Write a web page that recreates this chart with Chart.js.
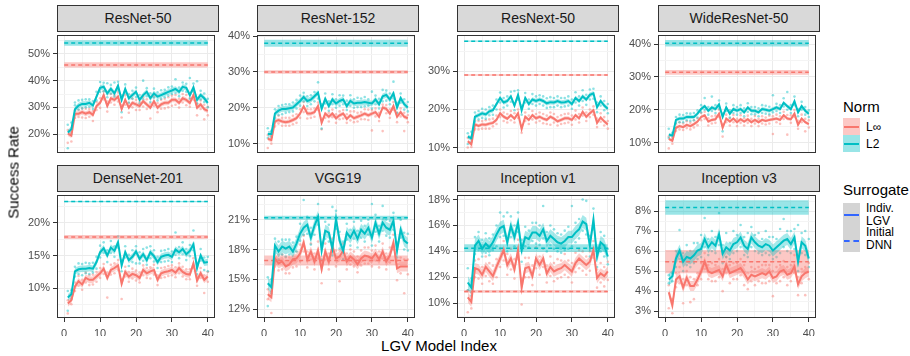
<!DOCTYPE html>
<html>
<head>
<meta charset="utf-8">
<script src="https://cdn.jsdelivr.net/npm/chart.js@4.4.1/dist/chart.umd.min.js"></script>
<style>
  body { margin: 0; background: #fff; overflow: hidden; font-family: "Liberation Sans", Arial, sans-serif; }
  #fig { position: relative; width: 910px; height: 356px; overflow: hidden; }
  .strip { position: absolute; box-sizing: border-box; background: #D9D9D9; border: 1px solid #333333;
           color: #1A1A1A; font-size: 14px; text-align: center; line-height: 25px; }
  .panel { position: absolute; }
  .txt { position: absolute; white-space: nowrap; color: #000; }
  .key { position: absolute; box-sizing: border-box; }
</style>
</head>
<body>
<div id="fig"></div>
<script>
// ---- data (success rate, %) ----
const panelNames = ['ResNet-50', 'ResNet-152', 'ResNext-50', 'WideResNet-50',
                    'DenseNet-201', 'VGG19', 'Inception v1', 'Inception v3'];
const modelIndex = Array.from({length: 40}, (_, i) => i + 1);
const xTickLabels = [0, 10, 20, 30, 40];
const yTicks = [[20, 30, 40, 50], [10, 20, 30, 40], [10, 20, 30], [10, 20, 30, 40],
                [10, 15, 20], [12, 15, 18, 21], [10, 12, 14, 16, 18], [3, 4, 5, 6, 7, 8]];
const yLimits = [[12.9, 57.1], [7.4, 40.3], [8.65, 39.4], [6.8, 42.8],
                 [5.5, 24.2], [11.1, 23.5], [8.86, 18.35], [2.66, 8.8]];

// initial DNN surrogate (dashed) and its band
const dnnLinf = [45.9, 30.0, 29.0, 31.4, 17.8, 16.9, 10.9, 5.47];
const dnnL2 = [54.1, 38.0, 37.8, 40.3, 23.2, 21.2, 14.25, 8.18];
const dnnLinfBand = [1.0, 0.5, 0.2, 0.7, 0.3, 0.5, 0.1, 0.58];
const dnnL2Band = [1.0, 1.0, 0.15, 1.0, 0.1, 0.2, 0.3, 0.36];
// half width of the ribbon around the LGV mean
const lgvLinfBand = [0.9, 0.6, 0.5, 0.5, 0.5, 0.5, 0.4, 0.25];
const lgvL2Band = [1.0, 0.8, 0.6, 0.6, 0.5, 0.6, 0.5, 0.3];

// LGV means and two individual runs per series
const resnet50Linf = [20.2,19.4,27.6,27.6,28.2,27.6,28.2,27.2,30.5,31.7,34.6,30.5,33.4,32.8,34.0,29.3,32.8,29.9,31.7,31.1,30.5,32.3,31.1,29.9,32.3,29.9,31.1,31.7,31.7,32.8,32.8,31.7,33.4,32.8,31.7,34.6,29.9,31.1,29.3,28.7];
const resnet50L2 = [20.6,21.8,29.3,30.7,31.3,31.3,31.7,30.7,34.0,37.3,37.7,35.2,36.9,35.2,38.1,32.8,36.9,33.4,34.6,35.8,32.8,34.6,35.8,33.4,35.2,34.0,34.6,35.2,35.8,36.3,36.9,35.8,37.7,37.3,34.6,37.5,32.8,34.6,33.4,31.7];
const resnet50LinfRunA = [16.7,17.2,26.0,29.0,26.2,29.5,26.5,24.9,32.0,29.8,33.0,28.4,35.0,31.0,32.2,26.2,34.5,28.0,33.3,29.0,32.0,30.3,33.0,25.8,34.0,28.2,32.8,29.6,33.8,30.6,34.6,29.9,35.0,30.8,33.5,32.8,27.0,29.4,25.5,27.0];
const resnet50LinfRunB = [21.5,20.8,28.8,26.4,29.6,26.0,29.4,28.6,29.0,33.4,36.0,32.2,31.8,34.4,35.6,30.8,31.0,31.6,30.0,32.8,29.0,33.8,29.4,31.4,30.6,31.6,29.5,33.2,30.0,34.4,31.0,33.2,31.8,34.6,30.2,36.0,31.4,32.6,31.0,30.2];
const resnet50L2RunA = [14.7,24.3,31.8,32.6,29.6,33.0,30.2,32.4,35.8,39.5,36.0,39.0,35.2,39.3,36.4,28.2,38.6,35.0,36.2,33.9,34.6,40.0,34.2,35.3,37.0,32.6,36.4,33.8,37.5,35.0,40.5,34.2,39.3,35.8,41.0,35.9,39.8,33.0,35.2,30.0];
const resnet50L2RunB = [23.5,20.0,30.8,29.2,32.8,30.0,33.0,29.4,32.6,35.8,39.2,33.8,38.4,34.0,39.6,34.4,35.4,31.8,33.2,37.4,31.4,33.0,37.2,32.0,33.6,35.6,33.2,36.6,34.4,37.8,35.4,37.4,36.2,38.8,33.2,38.9,31.4,36.2,32.0,33.2];

const resnet152Linf = [11.4,11.0,16.2,16.6,16.2,16.0,16.2,16.6,17.1,18.4,20.4,18.4,18.4,18.8,20.5,15.8,18.4,17.5,18.4,17.1,17.9,18.4,16.9,17.9,17.1,17.5,17.9,18.4,17.9,18.4,18.8,17.5,20.1,19.7,18.4,20.5,17.5,18.8,17.5,17.1];
const resnet152L2 = [12.7,12.7,18.4,19.2,19.7,19.7,19.9,20.1,21.0,21.9,23.0,21.9,22.3,23.2,24.2,19.7,22.5,20.5,22.3,21.2,21.9,22.3,20.5,21.9,21.2,21.4,21.4,21.6,21.4,21.2,22.3,21.0,23.2,23.6,22.3,24.0,20.1,22.7,21.0,20.1];
const resnet152LinfRunA = [8.8,12.2,14.8,17.8,15.0,17.2,15.0,17.8,15.8,19.6,18.8,17.0,19.6,17.5,21.5,14.0,19.8,16.2,19.5,15.8,19.0,17.0,18.2,16.5,19.0,16.2,18.8,16.8,19.5,13.7,19.8,16.3,13.5,18.5,19.6,21.6,16.0,19.8,13.5,16.0];
const resnet152LinfRunB = [12.4,10.0,17.4,15.6,17.2,15.0,17.2,15.4,18.2,17.2,21.6,19.6,17.2,19.8,19.4,17.0,17.2,18.6,17.4,18.2,16.8,19.4,15.8,19.0,16.0,18.6,16.8,19.6,16.6,19.4,17.6,18.6,20.9,20.8,17.2,19.4,18.6,17.6,18.6,18.0];
const resnet152L2RunA = [14.3,11.8,17.0,20.5,18.2,21.0,18.8,21.5,19.8,23.4,24.2,20.5,23.5,21.8,27.1,14.2,24.0,19.2,23.8,20.0,23.5,21.0,22.0,23.5,20.0,22.8,20.2,23.0,20.6,24.5,21.0,22.5,25.0,22.0,24.0,27.3,18.6,24.0,19.5,21.6];
const resnet152L2RunB = [11.6,13.6,19.6,18.0,20.8,18.6,21.0,19.0,22.2,20.6,21.8,23.2,21.0,24.4,22.6,21.0,21.2,21.8,21.0,22.4,20.6,23.4,19.4,20.6,22.4,20.2,22.6,20.4,22.4,19.8,23.4,19.8,21.8,24.8,21.0,22.6,21.4,21.4,22.4,19.0];

const resnext50Linf = [11.7,10.9,16.1,15.7,16.1,16.0,16.3,16.5,17.3,19.0,18.1,17.6,18.5,17.6,19.0,14.9,18.1,17.3,18.5,17.7,18.1,17.6,17.3,18.1,17.6,16.9,17.3,17.7,17.7,17.3,18.5,17.7,19.4,18.1,19.0,19.8,16.5,17.9,16.9,16.1];
const resnext50L2 = [12.9,12.5,18.1,18.5,19.0,18.7,19.5,19.8,21.4,23.0,21.8,22.2,23.4,21.0,23.8,19.8,23.0,21.4,22.6,22.2,22.6,22.2,21.6,21.9,21.8,22.2,21.8,21.9,22.2,21.4,23.0,22.2,23.4,22.6,23.8,24.2,20.6,22.2,21.0,20.2];
const resnext50LinfRunA = [10.1,12.2,14.8,17.0,15.0,17.2,15.0,17.6,16.2,20.0,17.0,18.8,17.2,19.0,17.8,13.9,19.2,16.2,19.6,16.6,19.2,16.4,18.4,16.0,18.8,15.8,18.5,16.4,18.9,16.0,19.7,16.6,20.5,17.0,20.0,18.6,15.4,19.0,15.8,15.0];
const resnext50LinfRunB = [12.6,10.2,17.2,14.8,17.0,15.0,17.4,15.6,18.4,18.0,19.2,16.6,19.6,16.6,20.0,15.8,17.0,18.4,17.4,18.8,17.0,18.8,16.2,19.2,16.6,18.0,16.2,18.8,16.6,18.4,17.4,18.8,18.4,19.2,18.0,20.8,17.6,16.8,18.0,17.0];
const resnext50L2RunA = [11.0,14.2,16.8,19.6,17.8,20.0,18.5,21.0,20.0,24.4,20.5,23.4,22.0,24.8,22.5,18.6,24.3,20.2,24.0,21.0,23.7,21.0,22.9,20.6,23.0,21.0,23.0,20.8,23.4,20.2,24.5,21.0,25.0,21.2,25.2,22.8,19.3,23.4,19.8,19.0];
const resnext50L2RunB = [13.8,11.6,19.2,17.4,20.2,17.6,20.6,18.6,22.6,21.8,23.0,21.0,24.6,19.8,25.0,21.0,21.8,22.6,21.4,23.4,21.4,23.4,20.4,23.2,20.6,23.4,20.6,23.0,21.0,22.6,21.8,23.4,22.2,23.8,22.6,25.4,21.8,21.0,22.2,21.4];

const wideresnet50Linf = [11.1,10.5,14.5,15.0,14.7,15.4,15.0,15.6,16.4,17.8,18.3,16.4,16.9,17.1,18.8,14.5,17.3,16.4,17.3,16.2,17.1,16.4,17.1,16.2,16.9,16.2,16.9,16.6,16.9,17.1,17.3,16.9,18.3,17.3,17.1,18.8,15.4,17.3,16.2,15.6];
const wideresnet50L2 = [12.4,12.1,16.9,17.3,17.3,17.8,17.8,17.8,18.8,20.2,21.1,19.7,20.7,20.2,21.6,17.8,20.7,18.8,20.2,19.7,20.2,19.2,20.7,19.7,19.7,19.2,20.2,20.0,19.7,20.2,20.7,20.2,22.1,21.1,20.2,22.6,19.2,21.1,19.7,18.8];
const wideresnet50LinfRunA = [8.2,11.6,13.5,16.2,13.8,16.5,14.0,16.8,15.3,19.0,17.2,15.2,18.0,16.0,20.0,11.8,18.5,15.2,18.4,15.0,18.3,15.2,18.2,15.0,18.1,15.0,18.0,15.5,18.2,12.6,18.5,15.7,19.4,12.4,18.3,19.9,14.2,18.5,13.4,14.6];
const wideresnet50LinfRunB = [11.8,9.6,15.6,14.0,15.8,14.4,16.0,14.6,17.4,16.8,19.4,17.4,15.8,18.2,17.8,15.6,16.2,17.4,16.2,17.2,16.0,17.4,16.0,17.2,15.8,17.2,15.8,17.6,15.8,18.0,16.2,18.0,17.2,18.4,16.0,17.8,16.6,16.2,17.2,16.8];
const wideresnet50L2RunA = [14.2,11.0,16.0,18.5,16.2,18.9,16.6,19.0,17.6,21.4,23.6,18.5,24.0,19.0,22.8,13.4,21.9,17.6,21.4,18.5,21.4,18.0,22.0,18.6,20.8,18.0,21.4,18.8,20.9,24.4,19.6,21.4,23.5,25.4,19.0,24.0,18.0,22.4,18.5,19.8];
const wideresnet50L2RunB = [11.4,13.0,17.8,16.2,18.4,16.8,18.8,16.8,19.8,19.2,20.0,20.8,19.6,21.4,20.4,18.8,19.6,19.8,19.0,20.8,19.0,20.4,19.4,20.8,18.6,20.4,19.0,21.2,18.6,19.2,21.8,19.0,21.0,20.0,21.4,21.4,20.2,20.0,20.8,17.8];

const densenet201Linf = [7.7,8.2,10.3,11.1,10.6,11.6,11.3,11.3,11.8,12.3,13.0,11.6,12.8,13.1,13.5,10.7,12.5,11.8,12.2,12.0,11.6,12.8,12.3,12.6,12.8,11.3,12.3,12.5,12.6,12.8,12.4,13.1,12.5,12.2,12.1,13.8,11.2,12.3,11.3,11.8];
const densenet201L2 = [8.6,9.1,12.6,12.9,13.0,13.0,13.1,13.0,14.0,15.5,16.1,15.0,16.2,15.7,17.0,13.5,15.5,14.3,14.8,15.6,14.5,15.2,14.3,15.5,14.9,14.0,14.8,15.0,15.1,14.8,15.9,15.5,16.0,15.2,15.7,16.7,13.1,15.0,13.9,14.0];
const densenet201LinfRunA = [6.2,8.8,9.6,11.9,9.8,12.4,10.5,12.1,11.0,13.1,12.2,8.6,13.6,12.3,14.3,8.4,13.3,11.0,13.0,11.2,12.4,12.0,13.1,11.5,13.6,10.5,13.1,11.7,13.4,12.0,13.2,12.3,13.3,11.4,12.9,14.6,10.4,13.1,9.3,11.0];
const densenet201LinfRunB = [8.2,7.6,10.9,10.4,11.3,10.9,12.0,10.6,12.5,11.6,13.7,12.4,12.1,13.8,12.8,11.4,11.8,12.5,11.5,12.7,10.9,13.5,11.6,13.2,12.1,12.0,11.6,13.2,11.9,13.5,11.7,13.8,11.8,12.9,11.4,13.1,11.9,11.6,12.0,12.5];
const densenet201L2RunA = [6.6,9.7,11.8,13.8,12.0,13.9,12.2,13.9,13.0,16.5,17.0,14.0,17.2,14.8,17.9,12.6,16.4,13.4,15.8,13.8,15.5,14.2,16.2,16.4,15.8,13.1,15.7,14.1,16.0,14.0,18.5,14.6,17.0,14.3,16.6,18.8,12.2,16.0,12.8,12.6];
const densenet201L2RunB = [9.6,8.4,13.3,12.2,13.7,12.3,13.8,12.4,14.8,14.7,15.4,15.8,15.4,16.4,16.2,14.3,14.7,15.1,14.0,16.4,13.8,16.0,13.6,14.6,14.1,14.8,14.0,15.8,14.2,15.6,15.1,16.3,15.2,16.0,14.9,15.8,13.9,14.2,14.7,14.8];

const vgg19Linf = [13.5,13.2,17.1,16.6,16.8,16.3,16.5,17.0,17.1,17.6,18.7,17.0,17.8,16.8,17.9,16.0,17.8,16.8,18.3,17.1,17.3,17.9,16.8,17.3,17.0,16.5,17.1,17.4,17.3,17.1,17.6,17.0,17.8,16.8,17.4,18.7,16.1,16.3,16.3,16.3];
const vgg19L2 = [14.6,14.2,18.4,17.8,18.3,18.1,18.3,17.8,18.6,19.6,20.2,20.5,19.2,20.4,21.3,17.9,19.9,19.7,18.1,21.1,18.9,17.9,19.7,19.2,19.9,19.1,20.0,19.6,20.2,19.2,20.7,19.6,20.7,20.2,20.0,20.9,17.9,20.0,18.9,18.6];
const vgg19LinfRunA = [13.0,11.6,16.3,17.5,16.0,17.2,15.6,17.8,16.3,18.5,17.8,16.2,18.6,16.0,18.8,14.6,18.6,16.0,19.1,16.3,14.8,17.1,17.6,16.5,17.8,15.7,17.9,16.6,18.2,16.3,18.4,16.2,18.6,16.0,18.2,19.5,14.9,17.2,13.6,15.5];
const vgg19LinfRunB = [14.0,13.8,17.8,15.9,17.5,15.6,17.2,16.2,17.8,16.8,19.4,17.8,17.0,17.6,17.1,16.8,17.0,17.6,17.5,17.9,17.9,18.6,16.0,18.0,16.3,17.3,16.4,18.2,16.6,17.9,16.9,17.8,17.1,17.6,16.7,18.0,16.9,15.6,17.0,17.0];
const vgg19L2RunA = [12.3,15.0,17.6,18.8,17.5,19.0,17.5,18.7,17.8,20.6,23.0,19.6,20.2,19.5,22.6,17.0,20.8,18.8,22.3,20.1,19.8,17.0,20.6,18.4,20.8,18.2,20.9,18.8,21.0,22.6,19.8,18.8,22.4,19.4,20.9,20.0,17.2,21.0,18.0,19.6];
const vgg19L2RunB = [15.2,13.6,19.1,17.0,19.0,17.3,19.0,17.0,19.3,18.9,19.5,21.3,18.5,21.2,20.5,18.7,19.1,20.5,17.4,21.9,18.1,18.8,19.0,20.0,19.1,19.9,19.2,20.4,19.5,18.4,21.5,20.4,19.9,21.0,19.2,21.7,18.7,19.2,19.7,17.9];

const inceptionv1Linf = [10.45,10.1,12.7,12.6,12.2,12.8,12.45,12.1,12.8,13.45,14.1,12.95,13.45,12.6,14.1,11.2,12.7,12.8,12.1,13.45,12.95,13.45,12.3,12.8,12.45,12.6,12.7,12.95,12.7,12.45,13.1,13.45,13.2,12.95,13.2,14.1,11.95,12.3,12.1,12.45];
const inceptionv1L2 = [11.6,11.2,14.45,14.8,14.2,14.6,14.3,14.7,15.3,15.8,15.95,14.7,15.95,15.1,16.2,14.1,15.1,14.95,15.45,15.45,15.2,15.7,14.8,15.2,14.95,14.7,14.6,14.8,15.1,15.1,15.45,15.7,16.3,16.1,14.45,16.45,13.6,14.7,14.45,13.6];
const inceptionv1LinfRunA = [9.3,10.8,12.0,13.4,11.5,13.6,11.7,12.9,12.0,14.2,13.3,13.8,12.6,13.4,14.9,9.9,13.5,12.0,12.9,14.3,12.2,14.2,11.6,13.6,11.7,13.4,12.0,13.8,12.0,11.6,13.9,12.7,14.0,12.2,14.0,14.8,11.2,13.1,11.3,13.2];
const inceptionv1LinfRunB = [11.0,9.6,13.3,11.9,12.8,12.1,13.1,11.5,13.4,12.8,14.8,12.2,14.2,11.9,13.4,11.9,12.0,13.5,11.4,12.7,13.6,12.8,12.9,12.1,13.1,11.9,13.3,12.2,13.3,13.1,12.4,14.1,12.5,13.6,12.5,13.5,12.6,11.6,12.8,11.8];
const inceptionv1L2RunA = [12.7,10.6,13.8,15.5,13.6,15.4,13.7,15.3,14.4,17.0,15.2,17.0,15.1,16.0,17.0,13.2,15.9,14.3,16.2,14.6,16.0,17.5,14.0,16.0,14.2,15.4,13.9,15.6,14.2,17.5,14.7,16.5,18.0,17.9,13.6,17.3,12.8,15.5,13.6,13.0];
const inceptionv1L2RunB = [11.0,11.9,15.1,14.1,14.9,13.9,15.0,14.1,16.0,15.1,16.7,14.0,16.7,14.4,15.5,14.9,14.4,15.6,14.8,16.2,14.5,15.0,15.5,14.5,15.7,14.0,15.3,14.1,15.9,14.4,16.2,15.0,15.6,15.3,15.2,15.7,14.3,14.0,15.2,14.2];

const inceptionv3Linf = [3.94,3.29,4.58,4.74,4.18,4.66,4.26,4.26,4.58,4.98,5.47,4.98,4.9,4.98,5.06,4.74,5.31,4.9,4.98,5.06,5.15,4.9,4.58,4.82,4.74,4.82,4.9,4.82,4.98,4.66,4.74,4.98,5.06,4.82,4.9,5.23,4.34,4.74,4.9,4.98];
const inceptionv3L2 = [4.58,4.74,5.63,6.03,5.47,5.71,5.63,5.79,6.03,6.11,6.6,6.19,6.44,6.27,6.84,5.87,6.19,6.03,6.35,6.44,6.68,6.27,6.11,6.68,6.44,6.27,6.19,6.35,6.27,6.03,6.19,6.35,6.52,6.6,6.35,6.68,5.47,6.44,6.27,5.63];
const inceptionv3LinfRunA = [3.15,2.9,4.2,5.2,3.4,5.0,3.45,3.6,4.9,5.4,5.9,4.6,5.4,4.5,5.6,4.0,5.7,4.4,5.4,4.6,5.6,4.3,4.1,5.2,4.3,5.2,4.4,5.3,4.5,3.75,5.2,4.5,5.5,4.3,5.3,5.8,3.8,5.1,3.8,5.4];
const inceptionv3LinfRunB = [4.3,3.6,4.9,4.4,4.6,4.3,4.7,4.6,4.3,4.6,5.1,5.3,4.5,5.3,4.7,5.1,4.9,5.3,4.6,5.4,4.8,5.3,4.9,4.5,5.1,4.5,5.3,4.4,5.3,5.0,4.4,5.3,4.7,5.2,4.5,4.9,4.7,4.4,5.2,4.6];
const inceptionv3L2RunA = [4.4,4.9,5.2,7.05,5.0,6.3,5.2,6.4,5.6,6.8,7.65,5.8,7.0,5.9,7.9,5.4,6.9,5.6,7.0,6.0,7.3,5.8,6.9,7.2,6.0,6.9,5.8,7.0,5.8,6.7,5.7,7.1,7.6,6.0,7.0,6.1,7.3,5.9,7.0,6.6];
const inceptionv3L2RunB = [4.8,4.5,6.0,5.6,5.9,5.3,6.0,5.4,6.4,5.7,6.2,6.6,6.0,6.7,6.3,6.3,5.7,6.4,5.9,6.8,6.2,6.7,5.7,6.2,6.8,5.9,6.6,5.9,6.7,5.6,6.6,5.9,6.2,7.0,5.9,7.1,5.0,6.9,5.8,5.2];

const lgvLinf = [resnet50Linf, resnet152Linf, resnext50Linf, wideresnet50Linf, densenet201Linf, vgg19Linf, inceptionv1Linf, inceptionv3Linf];
const lgvL2 = [resnet50L2, resnet152L2, resnext50L2, wideresnet50L2, densenet201L2, vgg19L2, inceptionv1L2, inceptionv3L2];
const runsLinf = [
  [resnet50LinfRunA, resnet50LinfRunB], [resnet152LinfRunA, resnet152LinfRunB],
  [resnext50LinfRunA, resnext50LinfRunB], [wideresnet50LinfRunA, wideresnet50LinfRunB],
  [densenet201LinfRunA, densenet201LinfRunB], [vgg19LinfRunA, vgg19LinfRunB],
  [inceptionv1LinfRunA, inceptionv1LinfRunB], [inceptionv3LinfRunA, inceptionv3LinfRunB]];
const runsL2 = [
  [resnet50L2RunA, resnet50L2RunB], [resnet152L2RunA, resnet152L2RunB],
  [resnext50L2RunA, resnext50L2RunB], [wideresnet50L2RunA, wideresnet50L2RunB],
  [densenet201L2RunA, densenet201L2RunB], [vgg19L2RunA, vgg19L2RunB],
  [inceptionv1L2RunA, inceptionv1L2RunB], [inceptionv3L2RunA, inceptionv3L2RunB]];

// ---- look ----
const FONT = '"Liberation Sans", Arial, sans-serif';
const RED = '#F8766D', TEAL = '#00BFC4', BLUE = '#3366FF';
const colLeft = [57, 257, 457, 658];
const AXIS_W = 36, PLOT_W = 162;

function fade(hex, a) {
  const n = parseInt(hex.slice(1), 16);
  return 'rgba(' + (n >> 16) + ',' + ((n >> 8) & 255) + ',' + (n & 255) + ',' + a + ')';
}
function isMajor(v, majors) { return majors.some(m => Math.abs(m - v) < 1e-6); }
function gridValues(majors, lo, hi) {
  const half = (majors[1] - majors[0]) / 2;
  let v = majors[0];
  while (v - half >= lo) v -= half;
  const out = [];
  for (; v <= hi + 1e-9; v += half) out.push(Math.round(v * 1000) / 1000);
  return out;
}
function xy(ys, d) { return ys.map((y, i) => ({x: modelIndex[i], y: y + (d || 0)})); }
function flat(y) { return [{x: xTickLabels[0], y: y}, {x: xTickLabels[xTickLabels.length - 1], y: y}]; }

const panelBorder = {
  id: 'panelBorder',
  afterDraw(chart) {
    const a = chart.chartArea, ctx = chart.ctx;
    ctx.save();
    ctx.strokeStyle = '#333333';
    ctx.lineWidth = 1;
    ctx.strokeRect(a.left + 0.5, a.top + 0.5, a.width - 1, a.height - 1);
    ctx.restore();
  }
};

const fig = document.getElementById('fig');

function addText(html, left, top, size, css) {
  const d = document.createElement('div');
  d.className = 'txt';
  d.innerHTML = html;
  d.style.left = left + 'px';
  d.style.top = top + 'px';
  d.style.fontSize = size + 'px';
  d.style.lineHeight = size + 'px';
  if (css) Object.assign(d.style, css);
  fig.appendChild(d);
  return d;
}

function ribbon(lo, hi, color, order) {
  return [
    {data: lo, borderWidth: 0, borderColor: 'rgba(0,0,0,0)', pointRadius: 0, fill: false, order: order},
    {data: hi, borderWidth: 0, borderColor: 'rgba(0,0,0,0)', pointRadius: 0, fill: '-1', backgroundColor: color, order: order}
  ];
}
function runDots(ys, color, order) {
  return {type: 'scatter', data: xy(ys), pointRadius: 1.3, pointBorderWidth: 0,
          pointBackgroundColor: fade(color, 0.45), order: order};
}

function makePanel(i) {
  const col = i % 4, bottom = i >= 4;
  const left = colLeft[col];
  const top = bottom ? 191 : 31;
  const plotH = bottom ? 127 : 126;
  const xAxisH = bottom ? 18 : 0;

  const strip = document.createElement('div');
  strip.className = 'strip';
  strip.textContent = panelNames[i];
  Object.assign(strip.style, {left: left + 'px', top: (top - 26) + 'px', width: PLOT_W + 'px', height: '27px'});
  fig.appendChild(strip);

  const box = document.createElement('div');
  box.className = 'panel';
  Object.assign(box.style, {left: (left - AXIS_W) + 'px', top: top + 'px'});
  const cv = document.createElement('canvas');
  cv.width = AXIS_W + PLOT_W;
  cv.height = plotH + xAxisH;
  cv.style.width = cv.width + 'px';
  cv.style.height = cv.height + 'px';
  box.appendChild(cv);
  fig.appendChild(box);

  const majorsY = yTicks[i];
  const lim = yLimits[i];
  const gridY = gridValues(majorsY, lim[0], lim[1]);
  const gridX = gridValues(xTickLabels, -2, 42);

  const datasets = [
    ...runsLinf[i].map(r => runDots(r, RED, 20)),
    ...runsL2[i].map(r => runDots(r, TEAL, 19)),
    ...ribbon(flat(dnnLinf[i] - dnnLinfBand[i]), flat(dnnLinf[i] + dnnLinfBand[i]), fade(RED, 0.4), 18),
    ...ribbon(flat(dnnL2[i] - dnnL2Band[i]), flat(dnnL2[i] + dnnL2Band[i]), fade(TEAL, 0.4), 17),
    ...ribbon(xy(lgvLinf[i], -lgvLinfBand[i]), xy(lgvLinf[i], lgvLinfBand[i]), fade(RED, 0.35), 16),
    ...ribbon(xy(lgvL2[i], -lgvL2Band[i]), xy(lgvL2[i], lgvL2Band[i]), fade(TEAL, 0.35), 15),
    {data: flat(dnnLinf[i]), borderColor: RED, borderWidth: 1.5, borderDash: [4, 3], pointRadius: 0, fill: false, order: 14},
    {data: flat(dnnL2[i]), borderColor: TEAL, borderWidth: 1.5, borderDash: [4, 3], pointRadius: 0, fill: false, order: 13},
    {data: xy(lgvLinf[i]), borderColor: RED, borderWidth: 2, pointRadius: 0, fill: false, order: 12},
    {data: xy(lgvL2[i]), borderColor: TEAL, borderWidth: 2, pointRadius: 0, fill: false, order: 11}
  ];

  new Chart(cv, {
    type: 'line',
    data: {datasets: datasets},
    options: {
      responsive: false,
      animation: false,
      devicePixelRatio: 1,
      layout: {padding: 0},
      events: [],
      plugins: {legend: {display: false}, tooltip: {enabled: false}},
      scales: {
        x: {
          type: 'linear', min: -2, max: 42,
          afterBuildTicks: s => { s.ticks = gridX.map(v => ({value: v})); },
          afterFit: s => { s.height = xAxisH; s.paddingLeft = 0; s.paddingRight = 0; },
          border: {display: false},
          grid: {
            color: c => (c.tick && isMajor(c.tick.value, xTickLabels)) ? '#EBEBEB' : '#F4F4F4',
            lineWidth: 1,
            drawTicks: bottom,
            tickLength: 4,
            tickWidth: 1,
            tickColor: c => (c.tick && isMajor(c.tick.value, xTickLabels)) ? '#333333' : 'rgba(0,0,0,0)'
          },
          ticks: {
            display: bottom, autoSkip: false, maxRotation: 0, padding: 5,
            color: '#4D4D4D', font: {family: FONT, size: 11},
            callback: v => isMajor(v, xTickLabels) ? String(v) : ''
          }
        },
        y: {
          type: 'linear', min: lim[0], max: lim[1],
          afterBuildTicks: s => { s.ticks = gridY.map(v => ({value: v})); },
          afterFit: s => { s.width = AXIS_W; s.paddingTop = 0; s.paddingBottom = 0; },
          border: {display: false},
          grid: {
            color: c => (c.tick && isMajor(c.tick.value, majorsY)) ? '#EBEBEB' : '#F4F4F4',
            lineWidth: 1,
            tickLength: 4,
            tickWidth: 1,
            tickColor: c => (c.tick && isMajor(c.tick.value, majorsY)) ? '#333333' : 'rgba(0,0,0,0)'
          },
          ticks: {
            autoSkip: false, padding: 3,
            color: '#4D4D4D', font: {family: FONT, size: 11},
            callback: v => isMajor(v, majorsY) ? v + '%' : ''
          }
        }
      }
    },
    plugins: [panelBorder]
  });
}

for (let i = 0; i < panelNames.length; i++) makePanel(i);

// axis titles
addText('LGV Model Index', 339, 338, 15, {width: '200px', textAlign: 'center'});
addText('Success Rate', -47, 165, 15, {width: '120px', textAlign: 'center', transform: 'rotate(-90deg)'});

// legend: Norm
addText('Norm', 843, 99, 15);
const normKeys = [['L\u221E', RED], ['L2', TEAL]];
normKeys.forEach((k, j) => {
  const y = 118 + j * 17;
  const b = document.createElement('div');
  b.className = 'key';
  Object.assign(b.style, {left: '843px', top: y + 'px', width: '17px', height: '17px', background: fade(k[1], 0.4)});
  fig.appendChild(b);
  const l = document.createElement('div');
  l.className = 'key';
  Object.assign(l.style, {left: '844px', top: (y + 7.5) + 'px', width: '15px', height: '2px', background: k[1]});
  fig.appendChild(l);
  addText(k[0], 866, y + 3, 12);
});

// legend: Surrogate
addText('Surrogate', 843, 182, 15);
const sbox = document.createElement('div');
sbox.className = 'key';
Object.assign(sbox.style, {left: '843px', top: '203px', width: '17px', height: '49px', background: '#D4D4D4'});
fig.appendChild(sbox);
const sLine = document.createElement('div');
sLine.className = 'key';
Object.assign(sLine.style, {left: '844px', top: '214px', width: '15px', height: '2px', background: BLUE});
fig.appendChild(sLine);
const dLine = document.createElement('div');
dLine.className = 'key';
Object.assign(dLine.style, {left: '844px', top: '240px', width: '15px', height: '0', borderTop: '2px dashed ' + BLUE});
fig.appendChild(dLine);
addText('Indiv.<br>LGV', 866, 202, 12, {lineHeight: '13px'});
addText('Initial<br>DNN', 866, 226, 12, {lineHeight: '13px'});
</script>
</body>
</html>
